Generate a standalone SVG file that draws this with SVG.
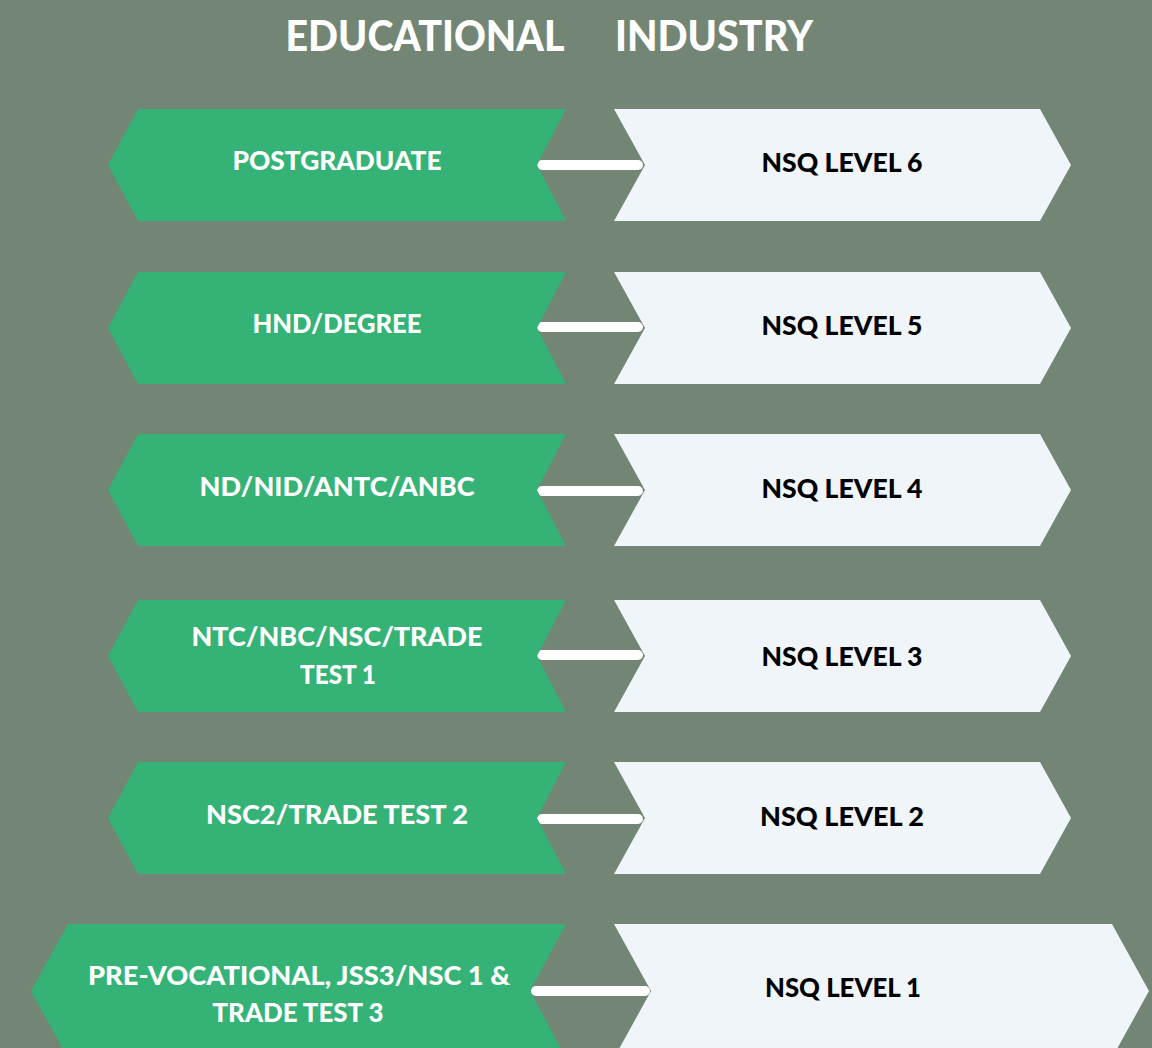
<svg xmlns="http://www.w3.org/2000/svg" width="1152" height="1048" viewBox="0 0 1152 1048">
<style>
.bg{fill:#738575}
.edu{fill:#35b276}
.ind{fill:#eff5f8}
.t{font-family:Lato,"Liberation Sans",sans-serif;font-weight:900;text-anchor:middle}
.tw{fill:#ffffff;font-size:27px}
.tb{fill:#000000;font-size:27px}
.title{fill:#ffffff;font-size:42px}
.conn{stroke:#ffffff;stroke-width:10;stroke-linecap:round;fill:none}
</style>
<rect class="bg" x="0" y="0" width="1152" height="1048"/>
<g id="title">
<text class="t title" x="425" y="51" textLength="279" lengthAdjust="spacingAndGlyphs">EDUCATIONAL</text>
<text class="t title" x="714" y="51" textLength="198" lengthAdjust="spacingAndGlyphs">INDUSTRY</text>
</g>
<g id="connectors">
<line class="conn" x1="542" y1="165" x2="638" y2="165"/>
<line class="conn" x1="542" y1="327" x2="638" y2="327"/>
<line class="conn" x1="542" y1="491" x2="638" y2="491"/>
<line class="conn" x1="542" y1="655" x2="638" y2="655"/>
<line class="conn" x1="542" y1="819" x2="638" y2="819"/>
<line class="conn" x1="536" y1="991" x2="645" y2="991"/>
</g>
<g id="edu-postgraduate">
<path class="edu" d="M138,109 L566,109 L537,165 L566,221 L138,221 L108,165 Z"/>
<text class="t tw" x="337" y="170" textLength="209" lengthAdjust="spacingAndGlyphs">POSTGRADUATE</text>
</g>
<g id="ind-level6">
<path class="ind" d="M614,109 L1040,109 L1071,165 L1040,221 L614,221 L645,165 Z"/>
<text class="t tb" x="842" y="172" textLength="161" lengthAdjust="spacingAndGlyphs">NSQ LEVEL 6</text>
</g>
<g id="edu-hnd">
<path class="edu" d="M138,272 L566,272 L537,328 L566,384 L138,384 L108,328 Z"/>
<text class="t tw" x="337" y="333" textLength="169" lengthAdjust="spacingAndGlyphs">HND/DEGREE</text>
</g>
<g id="ind-level5">
<path class="ind" d="M614,272 L1040,272 L1071,328 L1040,384 L614,384 L645,328 Z"/>
<text class="t tb" x="842" y="335" textLength="161" lengthAdjust="spacingAndGlyphs">NSQ LEVEL 5</text>
</g>
<g id="edu-nd">
<path class="edu" d="M138,434 L566,434 L537,490 L566,546 L138,546 L108,490 Z"/>
<text class="t tw" x="337" y="496" textLength="275" lengthAdjust="spacingAndGlyphs">ND/NID/ANTC/ANBC</text>
</g>
<g id="ind-level4">
<path class="ind" d="M614,434 L1040,434 L1071,490 L1040,546 L614,546 L645,490 Z"/>
<text class="t tb" x="842" y="498" textLength="161" lengthAdjust="spacingAndGlyphs">NSQ LEVEL 4</text>
</g>
<g id="edu-ntc">
<path class="edu" d="M138,600 L566,600 L537,656 L566,712 L138,712 L108,656 Z"/>
<text class="t tw" x="337" y="646" textLength="291" lengthAdjust="spacingAndGlyphs">NTC/NBC/NSC/TRADE</text>
<text class="t tw" x="338" y="684" textLength="76" lengthAdjust="spacingAndGlyphs">TEST 1</text>
</g>
<g id="ind-level3">
<path class="ind" d="M614,600 L1040,600 L1071,656 L1040,712 L614,712 L645,656 Z"/>
<text class="t tb" x="842" y="666" textLength="161" lengthAdjust="spacingAndGlyphs">NSQ LEVEL 3</text>
</g>
<g id="edu-nsc2">
<path class="edu" d="M138,762 L566,762 L537,818 L566,874 L138,874 L108,818 Z"/>
<text class="t tw" x="337" y="824" textLength="262" lengthAdjust="spacingAndGlyphs">NSC2/TRADE TEST 2</text>
</g>
<g id="ind-level2">
<path class="ind" d="M614,762 L1040,762 L1071,818 L1040,874 L614,874 L645,818 Z"/>
<text class="t tb" x="842" y="826" textLength="164" lengthAdjust="spacingAndGlyphs">NSQ LEVEL 2</text>
</g>
<g id="edu-prevocational">
<path class="edu" d="M68,924 L566,924 L530,991 L566,1058 L68,1058 L31,991 Z"/>
<text class="t tw" x="299" y="985" textLength="422" lengthAdjust="spacingAndGlyphs">PRE-VOCATIONAL, JSS3/NSC 1 &amp;</text>
<text class="t tw" x="298" y="1022" textLength="171" lengthAdjust="spacingAndGlyphs">TRADE TEST 3</text>
</g>
<g id="ind-level1">
<path class="ind" d="M614,924 L1112,924 L1149,991 L1112,1058 L614,1058 L651,991 Z"/>
<text class="t tb" x="843" y="997" textLength="156" lengthAdjust="spacingAndGlyphs">NSQ LEVEL 1</text>
</g>
</svg>
